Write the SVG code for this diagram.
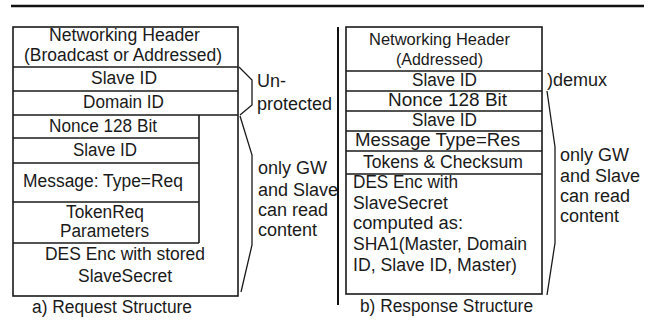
<svg xmlns="http://www.w3.org/2000/svg" width="650" height="320" viewBox="0 0 650 320">
<style>
  .bx{fill:none;stroke:#1a1a1a;stroke-width:1.6}
  .ln{stroke:#1a1a1a;stroke-width:1.6}
  .br{fill:none;stroke:#1a1a1a;stroke-width:1.3}
  text{font-family:"Liberation Sans",Arial,Helvetica,sans-serif;font-size:18px;fill:#1a1a1a}
  .c{text-anchor:middle}
  .s{font-size:17px}
</style>
<rect width="650" height="320" fill="#ffffff"/>
<line x1="11" y1="6" x2="644" y2="6" stroke="#111" stroke-width="2.6"/>
<line x1="338" y1="27" x2="338" y2="305" stroke="#111" stroke-width="2"/>

<g id="req">
  <rect class="bx" x="13" y="27" width="225" height="269"/>
  <g id="req-header"><line class="ln" x1="13" y1="67" x2="238" y2="67"/>
    <text class="c" x="124.5" y="41" textLength="151" lengthAdjust="spacingAndGlyphs">Networking Header</text>
    <text class="c" x="123" y="61" textLength="198" lengthAdjust="spacingAndGlyphs">(Broadcast or Addressed)</text></g>
  <g id="req-slaveid"><line class="ln" x1="13" y1="91" x2="238" y2="91"/>
    <text class="c" x="124" y="84" textLength="66" lengthAdjust="spacingAndGlyphs">Slave ID</text></g>
  <g id="req-domainid"><line class="ln" x1="13" y1="115" x2="238" y2="115"/>
    <text class="c" x="123.5" y="108" textLength="81" lengthAdjust="spacingAndGlyphs">Domain ID</text></g>
  <line class="ln" x1="199" y1="115" x2="199" y2="243"/>
  <g id="req-nonce"><line class="ln" x1="13" y1="138" x2="199" y2="138"/>
    <text class="c" x="103" y="132" textLength="108" lengthAdjust="spacingAndGlyphs">Nonce 128 Bit</text></g>
  <g id="req-slaveid2"><line class="ln" x1="13" y1="163" x2="199" y2="163"/>
    <text class="c" x="105" y="156" textLength="64" lengthAdjust="spacingAndGlyphs">Slave ID</text></g>
  <g id="req-msg"><line class="ln" x1="13" y1="202" x2="199" y2="202"/>
    <text class="c" x="103" y="187" textLength="160" lengthAdjust="spacingAndGlyphs">Message: Type=Req</text></g>
  <g id="req-tokenreq"><line class="ln" x1="13" y1="243" x2="199" y2="243"/>
    <text class="c" x="105" y="218" textLength="78" lengthAdjust="spacingAndGlyphs">TokenReq</text>
    <text class="c" x="104.5" y="237" textLength="89" lengthAdjust="spacingAndGlyphs">Parameters</text></g>
  <g id="req-des">
    <text class="c" x="125" y="260" textLength="160" lengthAdjust="spacingAndGlyphs">DES Enc with stored</text>
    <text class="c" x="125" y="282" textLength="94" lengthAdjust="spacingAndGlyphs">SlaveSecret</text></g>
  <text class="c" x="112" y="313" textLength="160" lengthAdjust="spacingAndGlyphs">a) Request Structure</text>
</g>

<g id="res">
  <rect class="bx" x="346" y="27" width="196" height="267"/>
  <g id="res-header"><line class="ln" x1="346" y1="71" x2="542" y2="71"/>
    <text class="c s" x="439.5" y="45" textLength="141" lengthAdjust="spacingAndGlyphs">Networking Header</text>
    <text class="c s" x="439.5" y="65" textLength="87" lengthAdjust="spacingAndGlyphs">(Addressed)</text></g>
  <g id="res-slaveid"><line class="ln" x1="346" y1="91" x2="542" y2="91"/>
    <text class="c" x="444.5" y="86" textLength="65" lengthAdjust="spacingAndGlyphs">Slave ID</text></g>
  <g id="res-nonce"><line class="ln" x1="346" y1="111" x2="542" y2="111"/>
    <text class="c" x="447.5" y="106" textLength="119" lengthAdjust="spacingAndGlyphs">Nonce 128 Bit</text></g>
  <g id="res-slaveid2"><line class="ln" x1="346" y1="131" x2="542" y2="131"/>
    <text class="c" x="444.5" y="126" textLength="65" lengthAdjust="spacingAndGlyphs">Slave ID</text></g>
  <g id="res-msg"><line class="ln" x1="346" y1="151" x2="542" y2="151"/>
    <text class="c" x="437.5" y="146" textLength="165" lengthAdjust="spacingAndGlyphs">Message Type=Res</text></g>
  <g id="res-tokens"><line class="ln" x1="346" y1="174" x2="542" y2="174"/>
    <text class="c" x="443" y="168" textLength="160" lengthAdjust="spacingAndGlyphs">Tokens &amp; Checksum</text></g>
  <g id="res-des">
    <text x="353" y="188" textLength="105" lengthAdjust="spacingAndGlyphs">DES Enc with</text>
    <text x="353" y="209" textLength="95" lengthAdjust="spacingAndGlyphs">SlaveSecret</text>
    <text x="353" y="229" textLength="110" lengthAdjust="spacingAndGlyphs">computed as:</text>
    <text x="353" y="250" textLength="174" lengthAdjust="spacingAndGlyphs">SHA1(Master, Domain</text>
    <text x="353" y="271" textLength="164" lengthAdjust="spacingAndGlyphs">ID, Slave ID, Master)</text></g>
  <text class="c" x="446.5" y="312" textLength="173" lengthAdjust="spacingAndGlyphs">b) Response Structure</text>
</g>

<g id="connectors">
  <path class="br" d="M239,67 L252,80 L252,105 L240,115"/>
  <path class="br" d="M240,116 L252,155 L252,245 L241,292"/>
  <path class="br" d="M547,91 L555,147 L555,243 L547,295"/>
</g>

<g id="labels">
  <text x="257" y="87">Un-</text>
  <text x="257" y="110">protected</text>
  <text x="258" y="174">only GW</text>
  <text x="258" y="196">and Slave</text>
  <text x="258" y="216">can read</text>
  <text x="258" y="236">content</text>
  <text x="547" y="86">)demux</text>
  <text x="560" y="161">only GW</text>
  <text x="560" y="182">and Slave</text>
  <text x="560" y="202">can read</text>
  <text x="560" y="222">content</text>
</g>
</svg>
